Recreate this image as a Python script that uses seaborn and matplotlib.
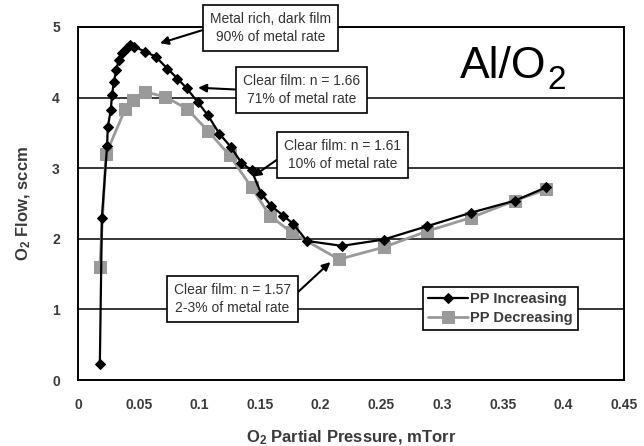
import matplotlib
matplotlib.use("Agg")
import matplotlib.pyplot as plt
from matplotlib import font_manager
from matplotlib.ticker import MultipleLocator
import seaborn as sns
import pandas as pd

# ---- data ----
inc_x = [0.018, 0.0197, 0.024, 0.0245, 0.027, 0.028, 0.0295, 0.0316, 0.0335, 0.036,
         0.040, 0.043, 0.0465, 0.0556, 0.064, 0.0737, 0.082, 0.0897, 0.0985, 0.107,
         0.1165, 0.126, 0.1345, 0.143, 0.151, 0.159, 0.169, 0.1775, 0.1885, 0.2176,
         0.252, 0.288, 0.324, 0.36, 0.386]
inc_y = [0.22, 2.3, 3.32, 3.58, 3.82, 4.03, 4.22, 4.39, 4.53, 4.63,
         4.70, 4.74, 4.72, 4.65, 4.58, 4.41, 4.27, 4.13, 3.94, 3.75,
         3.49, 3.30, 3.08, 2.97, 2.64, 2.47, 2.33, 2.21, 1.97, 1.90,
         1.99, 2.18, 2.37, 2.54, 2.73]
dec_x = [0.018, 0.023, 0.039, 0.045, 0.0556, 0.072, 0.090, 0.107, 0.125, 0.143,
         0.158, 0.176, 0.215, 0.252, 0.288, 0.324, 0.36, 0.386]
dec_y = [1.60, 3.20, 3.84, 3.96, 4.08, 4.01, 3.84, 3.53, 3.18, 2.73,
         2.33, 2.09, 1.71, 1.88, 2.11, 2.30, 2.54, 2.70]
series_names = ["PP Increasing", "PP Decreasing"]
x_label = "O$_2$ Partial Pressure, mTorr"
y_label = "O$_2$ Flow, sccm"
notes = ["Metal rich, dark film\n90% of metal rate",
         "Clear film: n = 1.66\n71% of metal rate",
         "Clear film: n = 1.61\n10% of metal rate",
         "Clear film: n = 1.57\n2-3% of metal rate"]

df = pd.concat([
    pd.DataFrame({"x": inc_x, "y": inc_y, "s": series_names[0]}),
    pd.DataFrame({"x": dec_x, "y": dec_y, "s": series_names[1]}),
], ignore_index=True)

sns.set_style("white")
plt.rcParams["font.family"] = ["Liberation Sans", "DejaVu Sans"]
plt.rcParams["mathtext.fontset"] = "custom"
plt.rcParams["mathtext.rm"] = "Liberation Sans:bold"
plt.rcParams["mathtext.it"] = "Liberation Sans:bold"
plt.rcParams["mathtext.bf"] = "Liberation Sans:bold"

fig = plt.figure(figsize=(6.44, 4.46), dpi=100)
ax = fig.add_axes([78/644, 1-380/446, (624-78)/644, (380-27)/446])

ax.set_xlim(0, 0.45)
ax.set_ylim(0, 5)
for yv in [1, 2, 3, 4]:
    ax.axhline(yv, color="black", lw=1.1, zorder=1)

sns.lineplot(data=df[df.s == series_names[1]], x="x", y="y", sort=False, ax=ax,
             color="#9a9a9a", lw=2.0, marker="s", markersize=9,
             markeredgecolor="#9a9a9a", label=series_names[1], zorder=3)
sns.lineplot(data=df[df.s == series_names[0]], x="x", y="y", sort=False, ax=ax,
             color="black", lw=1.6, marker="D", markersize=5.5,
             markeredgecolor="black", label=series_names[0], zorder=4)

ax.xaxis.set_major_locator(MultipleLocator(0.05))
ax.xaxis.set_minor_locator(MultipleLocator(0.01))
ax.yaxis.set_major_locator(MultipleLocator(1))
ax.yaxis.set_minor_locator(MultipleLocator(0.2))
ax.set_xticks([0, 0.05, 0.1, 0.15, 0.2, 0.25, 0.3, 0.35, 0.4, 0.45])
ax.set_xticklabels(["0", "0.05", "0.1", "0.15", "0.2", "0.25", "0.3", "0.35", "0.4", "0.45"])
ax.tick_params(which="major", direction="inout", length=8, width=1.2, color="black",
               labelsize=10, labelcolor="#3a3a3a", pad=9)
ax.tick_params(which="minor", direction="in", length=4, width=1.0, color="black")
for lab in ax.get_xticklabels() + ax.get_yticklabels():
    lab.set_fontweight("bold")
for sp in ax.spines.values():
    sp.set_visible(True)
    sp.set_color("black")
    sp.set_linewidth(1.4)

ax.set_xlabel(x_label, fontsize=12, fontweight="bold", color="#3a3a3a", labelpad=12)
ax.set_ylabel(y_label, fontsize=12, fontweight="bold", color="#3a3a3a", labelpad=14)

box = dict(boxstyle="square,pad=0.5", fc="white", ec="black", lw=1.2)
arrow = dict(arrowstyle="-|>", color="black", lw=1.5, mutation_scale=12, shrinkA=0, shrinkB=0)
ann_kw = dict(fontsize=10, color="#333333", ha="center", va="center", bbox=box,
              linespacing=1.35, zorder=6)
ax.annotate(notes[0], xy=(0.0676, 4.77), xytext=(0.159, 4.99),
            arrowprops=dict(arrow, relpos=(0, 0.5)), **ann_kw)
ax.annotate(notes[1], xy=(0.099, 4.14), xytext=(0.184, 4.11),
            arrowprops=dict(arrow, relpos=(0, 0.5)), **ann_kw)
ax.annotate(notes[2], xy=(0.144, 2.88), xytext=(0.218, 3.19),
            arrowprops=dict(arrow, relpos=(0, 0.5)), **ann_kw)
ax.annotate(notes[3], xy=(0.208, 1.67), xytext=(0.127, 1.15),
            arrowprops=dict(arrow, relpos=(1, 0.5)), **ann_kw)

ax.text(0.3857, 4.277, "Al/O", fontsize=32, ha="right", va="baseline",
        color="black", zorder=7)
ax.text(0.3867, 4.12, "2", fontsize=24, ha="left", va="baseline",
        color="black", zorder=7)

h, l = ax.get_legend_handles_labels()
order = [l.index(series_names[0]), l.index(series_names[1])]
leg = ax.legend([h[i] for i in order], [l[i] for i in order],
                loc="upper left", bbox_to_anchor=(0.632, 0.263), borderaxespad=0,
                frameon=True, fancybox=False, edgecolor="black", framealpha=1,
                prop={"weight": "bold", "size": 10.5}, handlelength=2.7,
                borderpad=0.35, labelspacing=0.3, handletextpad=0.2)
leg.get_frame().set_linewidth(1.2)
for t in leg.get_texts():
    t.set_color("#3a3a3a")

fig.savefig("out.png", dpi=100)
